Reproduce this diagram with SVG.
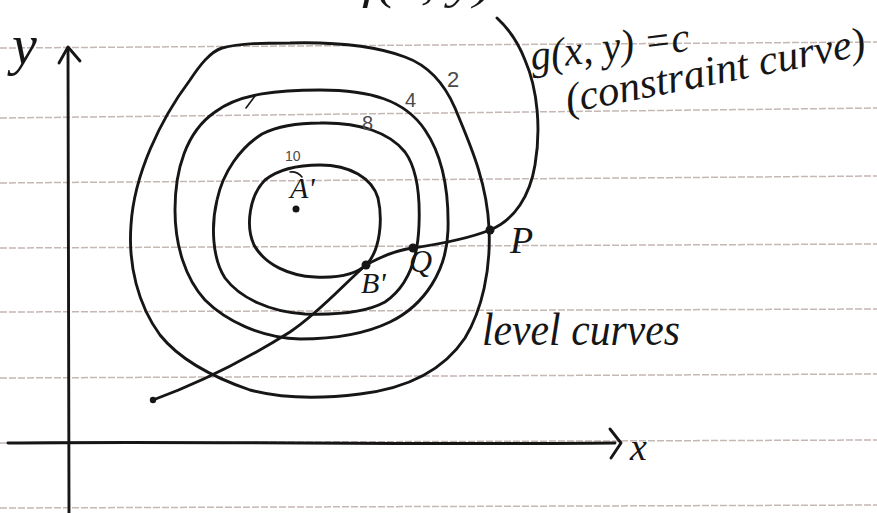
<svg xmlns="http://www.w3.org/2000/svg" width="877" height="513" viewBox="0 0 877 513">
<style>
.rule{stroke:#c4b8b4;stroke-width:1.5;stroke-dasharray:7 2;fill:none}
.ink{stroke:#161616;stroke-width:2.9;fill:none;stroke-linecap:round;stroke-linejoin:round}
.thin{stroke:#161616;stroke-width:1.6;fill:none;stroke-linecap:round}
.hand{font-family:"Liberation Serif","DejaVu Serif",serif;font-style:italic;fill:#161616}
.num{font-family:"Liberation Sans","DejaVu Sans",sans-serif;fill:#4a4a4a}
.dot{fill:#161616}
</style>
<rect width="877" height="513" fill="#ffffff"/>
<g id="ruled-lines">
<line class="rule" x1="0" y1="48" x2="877" y2="42"/>
<line class="rule" x1="0" y1="118" x2="877" y2="108"/>
<line class="rule" x1="0" y1="183" x2="877" y2="176"/>
<line class="rule" x1="0" y1="248" x2="877" y2="244"/>
<line class="rule" x1="0" y1="312" x2="877" y2="309"/>
<line class="rule" x1="0" y1="378" x2="877" y2="374"/>
<line class="rule" x1="0" y1="443" x2="877" y2="440"/>
<line class="rule" x1="0" y1="508" x2="877" y2="505"/>
</g>
<g id="axes">
<path class="ink" d="M 69,513 L 68,48"/>
<path class="ink" d="M 59,63 L 68,47 L 80,61"/>
<path class="ink" d="M 8,443 C 200,441 400,445 615,443"/>
<path class="ink" d="M 610,429 L 621,443 L 611,458"/>
<text class="hand" x="12" y="64" font-size="56">y</text>
<text class="hand" x="630" y="460" font-size="38">x</text>
</g>
<g id="level-curves">
<g id="level-2">
<path class="ink" d="M 290,43 C 330,42 370,44 405,57 C 430,66 445,85 455,108 C 468,140 487,180 489,228 C 491,270 482,310 465,338 C 445,368 410,388 360,394 C 320,399 280,398 250,390 C 215,378 180,360 160,335 C 138,305 128,265 131,225 C 134,175 160,120 190,80 C 200,65 210,52 222,48 C 240,43 265,43 290,43 Z"/>
<text class="num" x="447" y="87" font-size="22">2</text>
</g>
<g id="level-4">
<path class="ink" d="M 320,90 C 370,90 405,100 425,130 C 442,155 449,190 448,230 C 447,270 425,305 390,322 C 365,334 335,339 300,339 C 260,338 225,320 205,300 C 185,278 175,245 175,210 C 175,170 186,132 215,112 C 240,93 280,90 320,90 Z"/>
<path class="thin" d="M 246,108 L 255,96"/>
<text class="num" x="405" y="107" font-size="20">4</text>
</g>
<g id="level-8">
<path class="ink" d="M 320,123 C 360,122 390,133 405,152 C 418,170 420,200 419,225 C 418,255 410,285 385,302 C 365,313 335,315 305,314 C 270,312 240,298 225,278 C 212,258 211,225 217,200 C 223,172 240,148 262,134 C 280,125 300,123 320,123 Z"/>
<text class="num" x="362" y="130" font-size="20">8</text>
</g>
<g id="level-10">
<path class="ink" d="M 320,165 C 350,165 372,178 378,198 C 383,220 380,250 367,264 C 355,276 335,278 315,277 C 290,276 265,265 254,245 C 245,225 250,195 265,180 C 280,168 300,165 320,165 Z"/>
<path class="thin" d="M 290,172 Q 297,171 302,177" stroke-width="1.2"/>
<text class="num" x="285" y="161" font-size="14">10</text>
</g>
</g>
<g id="connectors">
<path id="constraint-curve" class="ink" d="M 153,400 C 200,383 250,357 290,332 C 320,312 345,283 366,265 C 382,256 398,250 413,248 C 440,244 470,238 490,230 C 515,220 530,195 535,165 C 541,130 538,90 525,60 C 518,42 508,28 497,18"/>
<circle class="dot" cx="153" cy="400" r="3.2"/>
</g>
<g id="point-A">
<circle class="dot" cx="296" cy="209" r="3.5"/>
<text class="hand" x="290" y="198" font-size="30">A'</text>
</g>
<g id="point-B">
<circle class="dot" cx="366" cy="265" r="4.5"/>
<text class="hand" x="361" y="293" font-size="30">B'</text>
</g>
<g id="point-Q">
<circle class="dot" cx="413" cy="248" r="4.5"/>
<text class="hand" x="409" y="272" font-size="32">Q</text>
</g>
<g id="point-P">
<circle class="dot" cx="490" cy="230" r="4.5"/>
<text class="hand" x="510" y="253" font-size="38">P</text>
</g>
<g id="labels">
<text class="hand" x="362" y="-1" font-size="44" textLength="130" lengthAdjust="spacingAndGlyphs">f(x, y)</text>
<text class="hand" x="532" y="70" font-size="42" transform="rotate(-7 532 70)" textLength="160" lengthAdjust="spacingAndGlyphs">g(x, y) =c</text>
<text class="hand" x="568" y="113" font-size="42" transform="rotate(-11 568 113)" textLength="305" lengthAdjust="spacingAndGlyphs">(constraint curve)</text>
<text class="hand" x="482" y="345" font-size="46" textLength="198" lengthAdjust="spacingAndGlyphs">level curves</text>
</g>
</svg>
